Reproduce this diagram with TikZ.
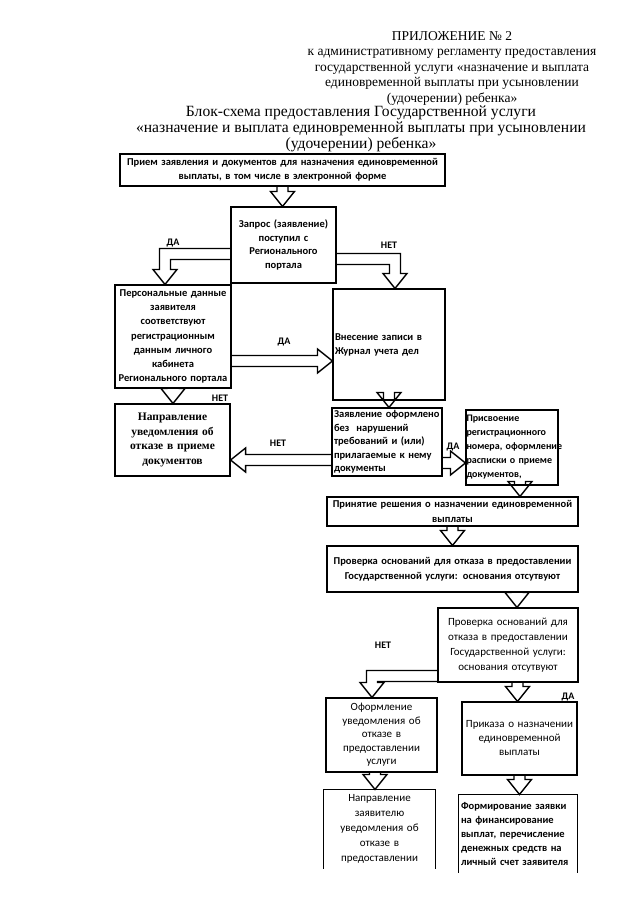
\documentclass[tikz,border=0pt]{standalone}
\usepackage{fontspec}
\setmainfont{Liberation Serif}
\newfontfamily\carl{Carlito}
\usetikzlibrary{calc,backgrounds}
\newcommand\ArrD[2]{\path[barr] let \p1=#1, \p2=#2 in (\x1-5.5pt,\y1) -- (\x1-5.5pt,\y2+15pt) -- (\x1-12pt,\y2+15pt) -- (\x1,\y2) -- (\x1+12pt,\y2+15pt) -- (\x1+5.5pt,\y2+15pt) -- (\x1+5.5pt,\y1);}
\newcommand\ArrR[2]{\path[barr] let \p1=#1, \p2=#2 in (\x1,\y1+5.5pt) -- (\x2-15pt,\y1+5.5pt) -- (\x2-15pt,\y1+12pt) -- (\x2,\y1) -- (\x2-15pt,\y1-12pt) -- (\x2-15pt,\y1-5.5pt) -- (\x1,\y1-5.5pt);}
\newcommand\ArrL[2]{\path[barr] let \p1=#1, \p2=#2 in (\x1,\y1+5.5pt) -- (\x2+15pt,\y1+5.5pt) -- (\x2+15pt,\y1+12pt) -- (\x2,\y1) -- (\x2+15pt,\y1-12pt) -- (\x2+15pt,\y1-5.5pt) -- (\x1,\y1-5.5pt);}
\newcommand\ArrLD[2]{\path[barr] let \p1=#1, \p2=#2 in (\x1,\y1+5.5pt) -- (\x2-5.5pt,\y1+5.5pt) -- (\x2-5.5pt,\y2+15pt) -- (\x2-12pt,\y2+15pt) -- (\x2,\y2) -- (\x2+12pt,\y2+15pt) -- (\x2+5.5pt,\y2+15pt) -- (\x2+5.5pt,\y1-5.5pt) -- (\x1,\y1-5.5pt);}
\newcommand\ArrRD[2]{\path[barr] let \p1=#1, \p2=#2 in (\x1,\y1+5.5pt) -- (\x2+5.5pt,\y1+5.5pt) -- (\x2+5.5pt,\y2+15pt) -- (\x2+12pt,\y2+15pt) -- (\x2,\y2) -- (\x2-12pt,\y2+15pt) -- (\x2-5.5pt,\y2+15pt) -- (\x2-5.5pt,\y1-5.5pt) -- (\x1,\y1-5.5pt);}
\begin{document}
\begin{tikzpicture}[x=1pt,y=-1pt,
 flowbox/.style={draw, line width=1.1pt, inner xsep=2pt, inner ysep=0pt, align=center, font=\carl\bfseries\fontsize{10.5}{14}\selectfont},
 flowboxl/.style={flowbox, align=left},
 flowboxr/.style={flowbox, font=\carl\fontsize{11}{14}\selectfont},
 lbl/.style={font=\carl\bfseries\fontsize{10}{11}\selectfont, inner sep=0pt},
 barr/.style={draw=black, line width=1.4pt, fill=white, line join=miter},
 openline/.style={line width=1.1pt}]
\useasboundingbox (0,0) rectangle (640,905);

\node[font=\fontsize{13.5}{15.5}\selectfont, align=center, inner sep=0pt] (hdr) at (452,68)
 {ПРИЛОЖЕНИЕ № 2\\ к административному регламенту предоставления\\ государственной услуги «назначение и выплата\\ единовременной выплаты при усыновлении\\ (удочерении) ребенка»};
\node[font=\fontsize{15.6}{16}\selectfont, align=center, inner sep=0pt] (ttl) at (361,129)
 {Блок-схема предоставления Государственной услуги\\ «назначение и выплата единовременной выплаты при усыновлении\\ (удочерении) ребенка»};

\node[flowbox, minimum width=325, text width=321, minimum height=32] (b1) at (282.5,170)
 {Прием заявления и документов для назначения единовременной\\ выплаты, в том числе в электронной форме};
\node[flowbox, minimum width=105, text width=101, minimum height=76, font=\carl\bfseries\fontsize{10.5}{13.5}\selectfont] (b2) at (283.5,245)
 {Запрос (заявление)\\ поступил с\\ Регионального\\ портала};
\node[flowbox, minimum width=116, text width=112, minimum height=103, font=\carl\bfseries\fontsize{10.5}{14.2}\selectfont] (b3) at (173,336.5)
 {Персональные данные\\ заявителя\\ соответствуют\\ регистрационным\\ данным личного\\ кабинета\\ Регионального портала};
\node[flowboxl, minimum width=112, text width=108, minimum height=111] (b4) at (389,344.5)
 {Внесение записи в\\ Журнал учета дел};
\node[flowbox, minimum width=115, text width=111, minimum height=72, font=\bfseries\fontsize{11.5}{14.5}\selectfont] (b5) at (172.5,440)
 {Направление\\ уведомления об\\ отказе в приеме\\ документов};
\node[flowboxl, minimum width=110, text width=106, minimum height=68, font=\carl\bfseries\fontsize{10.5}{13.5}\selectfont] (b6) at (387,442)
 {Заявление оформлено\\ без~ нарушений\\ требований и (или)\\ прилагаемые к нему\\ документы};
\node[flowboxl, minimum width=92, text width=91, minimum height=75, inner xsep=0.5pt, font=\carl\bfseries\fontsize{10}{14}\selectfont] (b7) at (512,447.5)
 {\mbox{Присвоение}\\ \mbox{регистрационного}\\ \mbox{номера, оформление}\\ \mbox{расписки о приеме}\\ \mbox{документов,}};
\node[flowbox, minimum width=251, text width=247, minimum height=29, font=\carl\bfseries\fontsize{10.5}{15}\selectfont] (b8) at (452.5,511.5)
 {Принятие решения о назначении единовременной\\ выплаты};
\node[flowbox, minimum width=251, text width=247, minimum height=46, font=\carl\bfseries\fontsize{10.5}{15}\selectfont] (b9) at (452.5,569)
 {Проверка оснований для отказа в предоставлении\\ Государственной услуги: основания отсутвуют};
\node[flowboxr, minimum width=140, text width=136, minimum height=74, font=\carl\fontsize{11}{15}\selectfont] (b10) at (508,645)
 {Проверка оснований для\\ отказа в предоставлении\\ Государственной услуги:\\ основания отсутвуют};
\node[flowboxr, minimum width=111, text width=107, minimum height=74, font=\carl\fontsize{11}{13.5}\selectfont] (b11) at (381.5,735)
 {Оформление\\ уведомления об\\ отказе в\\ предоставлении\\ услуги};
\node[flowboxr, minimum width=115, text width=111, minimum height=73] (b12) at (519.5,738.5)
 {Приказа о назначении\\ единовременной\\ выплаты};
\node[flowboxr, draw=none, minimum width=111, text width=107, minimum height=78, font=\carl\fontsize{11}{15}\selectfont] (b13) at (379.5,829)
 {Направление\\ заявителю\\ уведомления об\\ отказе в\\ предоставлении};
\node[flowboxl, draw=none, minimum width=118, text width=114, minimum height=77] (b14) at (518,833.5)
 {Формирование заявки\\ на финансирование\\ выплат, перечисление\\ денежных средств на\\ личный счет заявителя};
\draw[openline] (b13.south west) -- (b13.north west) -- (b13.north east) -- (b13.south east);
\draw[openline] (b14.south west) -- (b14.north west) -- (b14.north east) -- (b14.south east);

\node[lbl] (t1) at (173,243) {ДА};
\node[lbl] (t2) at (389,245) {НЕТ};
\node[lbl] (t3) at (284,342) {ДА};
\node[lbl] (t4) at (220,398) {НЕТ};
\node[lbl] (t5) at (278,443) {НЕТ};
\node[lbl] (t6) at (453,447) {ДА};
\node[lbl] (t7) at (383,645) {НЕТ};
\node[lbl] (t8) at (568,697) {ДА};

\begin{pgfonlayer}{background}
\ArrD{(b1.south)}{(b2.north)}
\ArrLD{([yshift=-9pt]b2.west)}{([xshift=-8pt]b3.north)}
\ArrRD{([yshift=-14pt]b2.east)}{([xshift=6pt]b4.north)}
\ArrR{([yshift=-24.5pt]b3.east)}{(b4.west)}
\ArrD{(b3.south)}{(b5.north)}
\ArrD{(b4.south)}{(b6.north)}
\ArrL{([yshift=-18pt]b6.west)}{(b5.east)}
\ArrR{([yshift=-21pt]b6.east)}{(b7.west)}
\ArrD{([xshift=8pt]b7.south)}{(b8.north)}
\ArrD{(b8.south)}{(b9.north)}
\ArrD{([xshift=64.5pt]b9.south)}{(b10.north)}
\ArrLD{([yshift=-31pt]b10.west)}{([xshift=-9.5pt]b11.north)}
\ArrD{([xshift=9.5pt]b10.south)}{(b12.north)}
\ArrD{([xshift=-6.5pt]b11.south)}{(b13.north)}
\ArrD{(b12.south)}{(b14.north)}
\end{pgfonlayer}
\end{tikzpicture}
\end{document}
